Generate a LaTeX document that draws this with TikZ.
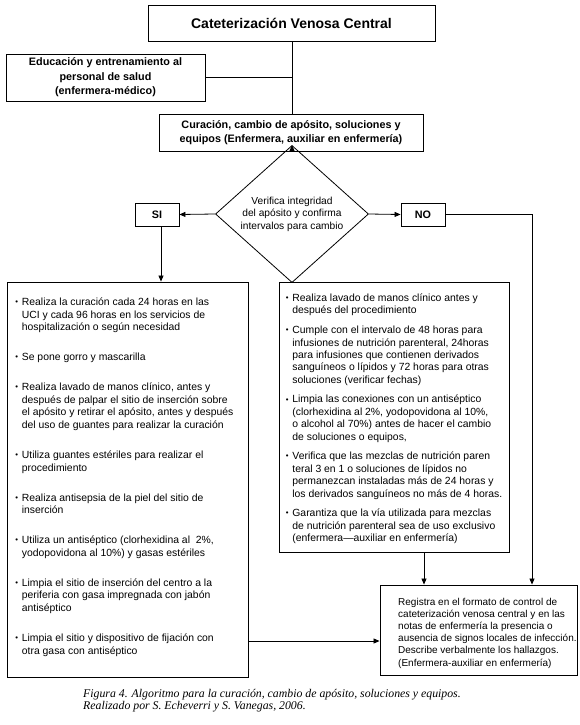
\documentclass[tikz,border=0pt]{standalone}
\usepackage{fontspec}
\setmainfont{Liberation Sans}
\newfontfamily\capfont{Liberation Serif}
\usetikzlibrary{shapes.geometric,arrows.meta}
\newcommand{\mybul}{\makebox[7.2pt][l]{\hspace{0.6pt}\raisebox{0.9pt}{\scalebox{0.75}{•}}}}
\begin{document}
\begin{tikzpicture}[x=1pt,y=-1pt,
  box/.style={draw, line width=0.9pt, inner sep=0pt, align=center},
  boldtxt/.style={font=\fontsize{10.8}{14.5}\selectfont\bfseries},
  conn/.style={line width=0.8pt},
  arr/.style={conn, -{Triangle[length=6pt,width=5pt]}},
  txt/.style={anchor=base west, inner sep=0pt}
  ]
\useasboundingbox (0,0) rectangle (580,725);
\fill[white] (0,0) rectangle (580,725);

% top boxes
\node[box, minimum width=287pt, minimum height=36pt, font=\fontsize{14}{16}\selectfont\bfseries] (title) at (291.5,23) {Cateterización Venosa Central};
\node[box, boldtxt, minimum width=199pt, minimum height=47pt] (edu) at (105.5,77.5) {Educación y entrenamiento al\\personal de salud\\(enfermera-médico)};
\node[box, boldtxt, minimum width=264pt, minimum height=37pt] (cur) at (291,132.5) {Curación, cambio de apósito, soluciones y\\equipos (Enfermera, auxiliar en enfermería)};

% decision
\node[draw, diamond, line width=0.8pt, inner sep=0pt, minimum width=153pt, minimum height=108pt, align=center, font=\fontsize{10.2}{12.5}\selectfont] (dia) at (292,214) {Verifica integridad\\del apósito y confirma\\intervalos para cambio};
\node[box, boldtxt, minimum width=44pt, minimum height=23pt] (si) at (157,214.5) {SI};
\node[box, boldtxt, minimum width=44pt, minimum height=23pt] (no) at (423,214.5) {NO};

% big boxes
\node[box, minimum width=241pt, minimum height=395pt] (lbox) at (127.5,479.5) {};
\node[box, minimum width=230pt, minimum height=270pt] (rbox) at (394,417) {};
\node[box, minimum width=197pt, minimum height=90pt] (bot) at (478.5,630) {};

% left box text
\node[txt, font=\fontsize{10.4}{12.6}\selectfont] (ltext) at (14.5,305.5) {\begin{tabular}[t]{@{}l@{}l@{}}
\mybul & Realiza la curación cada 24 horas en las\\
  & UCI y cada 96 horas en los servicios de\\
  & hospitalización o según necesidad\\[17.4pt]
\mybul & Se pone gorro y mascarilla\\[17.4pt]
\mybul & Realiza lavado de manos clínico, antes y\\
  & después de palpar el sitio de inserción sobre\\
  & el apósito y retirar el apósito, antes y después\\
  & del uso de guantes para realizar la curación\\[17.4pt]
\mybul & Utiliza guantes estériles para realizar el\\
  & procedimiento\\[17.4pt]
\mybul & Realiza antisepsia de la piel del sitio de\\
  & inserción\\[17.4pt]
\mybul & Utiliza un antiséptico (clorhexidina al\ \ 2\%,\\
  & yodopovidona al 10\%) y gasas estériles\\[17.4pt]
\mybul & Limpia el sitio de inserción del centro a la\\
  & periferia con gasa impregnada con jabón\\
  & antiséptico\\[17.4pt]
\mybul & Limpia el sitio y dispositivo de fijación con\\
  & otra gasa con antiséptico
\end{tabular}};

% right box text
\node[txt, font=\fontsize{10.4}{12.4}\selectfont] (rtext) at (285,301.5) {\begin{tabular}[t]{@{}l@{}l@{}}
\mybul & Realiza lavado de manos clínico antes y\\
  & después del procedimiento\\[7.3pt]
\mybul & Cumple con el intervalo de 48 horas para\\
  & infusiones de nutrición parenteral, 24horas\\
  & para infusiones que contienen derivados\\
  & sanguíneos o lípidos y 72 horas para otras\\
  & soluciones (verificar fechas)\\[7.3pt]
\mybul & Limpia las conexiones con un antiséptico\\
  & (clorhexidina al 2\%, yodopovidona al 10\%,\\
  & o alcohol al 70\%) antes de hacer el cambio\\
  & de soluciones o equipos,\\[7.3pt]
\mybul & Verifica que las mezclas de nutrición paren\\
  & teral 3 en 1 o soluciones de lípidos no\\
  & permanezcan instaladas más de 24 horas y\\
  & los derivados sanguíneos no más de 4 horas.\\[7.3pt]
\mybul & Garantiza que la vía utilizada para mezclas\\
  & de nutrición parenteral sea de uso exclusivo\\
  & (enfermera—auxiliar en enfermería)
\end{tabular}};

% bottom box text
\node[txt, font=\fontsize{10}{12.1}\selectfont] (btext) at (398,605.5) {\begin{tabular}[t]{@{}l@{}}
Registra en el formato de control de\\
cateterización venosa central y en las\\
notas de enfermería la presencia o\\
ausencia de signos locales de infección.\\
Describe verbalmente los hallazgos.\\
(Enfermera-auxiliar en enfermería)
\end{tabular}};

% caption
\node[txt, font=\capfont\itshape\fontsize{11.8}{11.5}\selectfont] (caption) at (83,697.5) {\begin{tabular}[t]{@{}l@{}}
Figura 4. Algoritmo para la curación, cambio de apósito, soluciones y equipos.\\
Realizado por S. Echeverri y S. Vanegas, 2006.
\end{tabular}};

% connectors
\coordinate (tb) at (title.south -| dia.north);
\draw[conn] (tb) -- (tb |- cur.north);
\draw[conn] (edu.east) -- (edu.east -| tb);
\draw[arr] (cur.south -| dia.north) -- (dia.north);
\draw[arr] (dia.west) -- (si.east);
\draw[arr] (dia.east) -- (no.west);
\draw[arr] ([xshift=4pt]si.south) -- ([xshift=4pt]si.south |- lbox.north);
\draw[arr] (no.east) -| ([xshift=53.5pt]bot.north);
\draw[arr] ([xshift=30pt]rbox.south) -- ([xshift=30pt]rbox.south |- bot.north);
\draw[arr] ([yshift=-161.5pt]lbox.east) -- ([yshift=-161.5pt]lbox.east -| bot.west);
\end{tikzpicture}
\end{document}
